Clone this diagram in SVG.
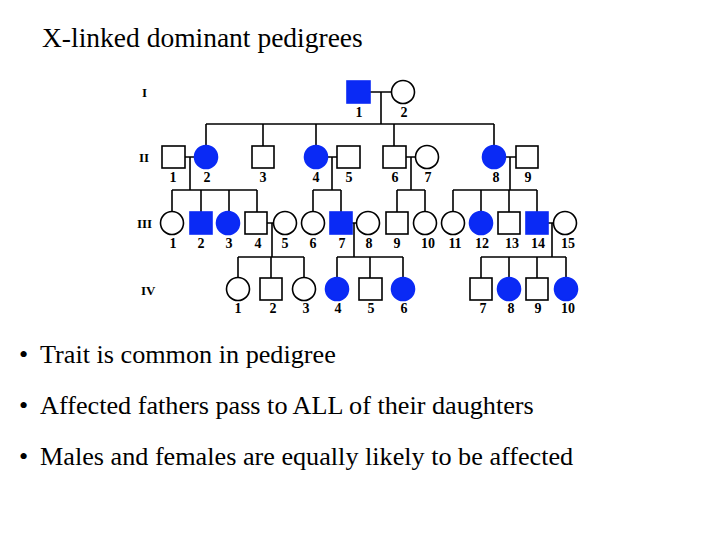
<svg xmlns="http://www.w3.org/2000/svg" width="728" height="546" viewBox="0 0 728 546">
<style>
.t{font-family:"Liberation Serif","Times New Roman",serif;fill:#000}
.title{font-size:27.5px}
.b{font-size:26.2px}
.n{font-family:"Liberation Serif","Times New Roman",serif;font-size:14px;font-weight:bold;text-anchor:middle;fill:#000}
.g{font-family:"Liberation Serif","Times New Roman",serif;font-size:13px;font-weight:bold;fill:#000}
.u{fill:#fff;stroke:#000;stroke-width:1.6}
.a{fill:#0a2af5;stroke:#0a2af5;stroke-width:1.6}
.ln{stroke:#000;stroke-width:1.6;fill:none}
</style>
<rect width="728" height="546" fill="#fff"/>
<text class="t title" x="42" y="47">X-linked dominant pedigrees</text>

<g id="gen-labels">
<text class="g" x="142" y="97">I</text>
<text class="g" x="139" y="162">II</text>
<text class="g" x="137" y="228">III</text>
<text class="g" x="141" y="295">IV</text>
</g>

<g id="connectors">
<path class="ln" d="M370 92H391M381 92V124M206 124H494M206 124V146M263 124V146M316 124V146M394 124V146M494 124V146"/>
<path class="ln" d="M185 157H195M190 157V190M172 190H257M172 190V212M201 190V212M229 190V212M257 190V212"/>
<path class="ln" d="M327 157H337M332 157V190M313 190H341M313 190V212M341 190V212"/>
<path class="ln" d="M406 157H416M411 157V190M397 190H425M397 190V212M425 190V212"/>
<path class="ln" d="M505 157H516M510 157V190M453 190H537M453 190V212M481 190V212M509 190V212M537 190V212"/>
<path class="ln" d="M267 223H274M272 223V257M238 257H304M238 257V278M271 257V278M304 257V278"/>
<path class="ln" d="M352 223H357M354 223V257M337 257H403M337 257V278M370 257V278M403 257V278"/>
<path class="ln" d="M548 223H554M552 223V257M481 257H566M481 257V278M509 257V278M537 257V278M566 257V278"/>
</g>

<g id="I-1"><rect class="a" x="347" y="81" width="23" height="22"/><text class="n" x="359" y="117">1</text></g>
<g id="I-2"><circle class="u" cx="403" cy="92" r="11.5"/><text class="n" x="404" y="117">2</text></g>

<g id="II-1"><rect class="u" x="162" y="146" width="23" height="22"/><text class="n" x="173" y="182">1</text></g>
<g id="II-2"><circle class="a" cx="206" cy="157" r="11.5"/><text class="n" x="207" y="182">2</text></g>
<g id="II-3"><rect class="u" x="252" y="146" width="22" height="22"/><text class="n" x="263" y="182">3</text></g>
<g id="II-4"><circle class="a" cx="316" cy="157" r="11.5"/><text class="n" x="316" y="182">4</text></g>
<g id="II-5"><rect class="u" x="337" y="146" width="23" height="22"/><text class="n" x="349" y="182">5</text></g>
<g id="II-6"><rect class="u" x="383" y="146" width="23" height="22"/><text class="n" x="395" y="182">6</text></g>
<g id="II-7"><circle class="u" cx="427" cy="157" r="11.5"/><text class="n" x="428" y="182">7</text></g>
<g id="II-8"><circle class="a" cx="494" cy="157" r="11.5"/><text class="n" x="496" y="182">8</text></g>
<g id="II-9"><rect class="u" x="516" y="146" width="22" height="22"/><text class="n" x="528" y="182">9</text></g>

<g id="III-1"><circle class="u" cx="172" cy="223" r="11.5"/><text class="n" x="173" y="248">1</text></g>
<g id="III-2"><rect class="a" x="190" y="212" width="22" height="22"/><text class="n" x="201" y="248">2</text></g>
<g id="III-3"><circle class="a" cx="228" cy="223" r="11.5"/><text class="n" x="229" y="248">3</text></g>
<g id="III-4"><rect class="u" x="245" y="212" width="22" height="22"/><text class="n" x="258" y="248">4</text></g>
<g id="III-5"><circle class="u" cx="285" cy="223" r="11.5"/><text class="n" x="285" y="248">5</text></g>
<g id="III-6"><circle class="u" cx="313" cy="223" r="11.5"/><text class="n" x="313" y="248">6</text></g>
<g id="III-7"><rect class="a" x="330" y="212" width="22" height="22"/><text class="n" x="342" y="248">7</text></g>
<g id="III-8"><circle class="u" cx="368" cy="223" r="11.5"/><text class="n" x="369" y="248">8</text></g>
<g id="III-9"><rect class="u" x="386" y="212" width="22" height="22"/><text class="n" x="397" y="248">9</text></g>
<g id="III-10"><circle class="u" cx="425" cy="223" r="11.5"/><text class="n" x="428" y="248">10</text></g>
<g id="III-11"><circle class="u" cx="453" cy="223" r="11.5"/><text class="n" x="455" y="248">11</text></g>
<g id="III-12"><circle class="a" cx="481" cy="223" r="11.5"/><text class="n" x="482" y="248">12</text></g>
<g id="III-13"><rect class="u" x="498" y="212" width="22" height="22"/><text class="n" x="512" y="248">13</text></g>
<g id="III-14"><rect class="a" x="526" y="212" width="22" height="22"/><text class="n" x="538" y="248">14</text></g>
<g id="III-15"><circle class="u" cx="565" cy="223" r="11.5"/><text class="n" x="568" y="248">15</text></g>

<g id="IV-1"><circle class="u" cx="238" cy="289" r="11.5"/><text class="n" x="238" y="313">1</text></g>
<g id="IV-2"><rect class="u" x="260" y="278" width="22" height="22"/><text class="n" x="273" y="313">2</text></g>
<g id="IV-3"><circle class="u" cx="304" cy="289" r="11.5"/><text class="n" x="306" y="313">3</text></g>
<g id="IV-4"><circle class="a" cx="337" cy="289" r="11.5"/><text class="n" x="338" y="313">4</text></g>
<g id="IV-5"><rect class="u" x="359" y="278" width="23" height="22"/><text class="n" x="371" y="313">5</text></g>
<g id="IV-6"><circle class="a" cx="403" cy="289" r="11.5"/><text class="n" x="404" y="313">6</text></g>
<g id="IV-7"><rect class="u" x="470" y="278" width="22" height="22"/><text class="n" x="483" y="313">7</text></g>
<g id="IV-8"><circle class="a" cx="509" cy="289" r="11.5"/><text class="n" x="511" y="313">8</text></g>
<g id="IV-9"><rect class="u" x="526" y="278" width="22" height="22"/><text class="n" x="538" y="313">9</text></g>
<g id="IV-10"><circle class="a" cx="566" cy="289" r="11.5"/><text class="n" x="568" y="313">10</text></g>

<g id="bullets">
<text class="t b" x="19" y="363">•</text><text class="t b" x="40" y="363">Trait is common in pedigree</text>
<text class="t b" x="19" y="414">•</text><text class="t b" x="40" y="414">Affected fathers pass to ALL of their daughters</text>
<text class="t b" x="19" y="465">•</text><text class="t b" x="40" y="465">Males and females are equally likely to be affected</text>
</g>
</svg>
